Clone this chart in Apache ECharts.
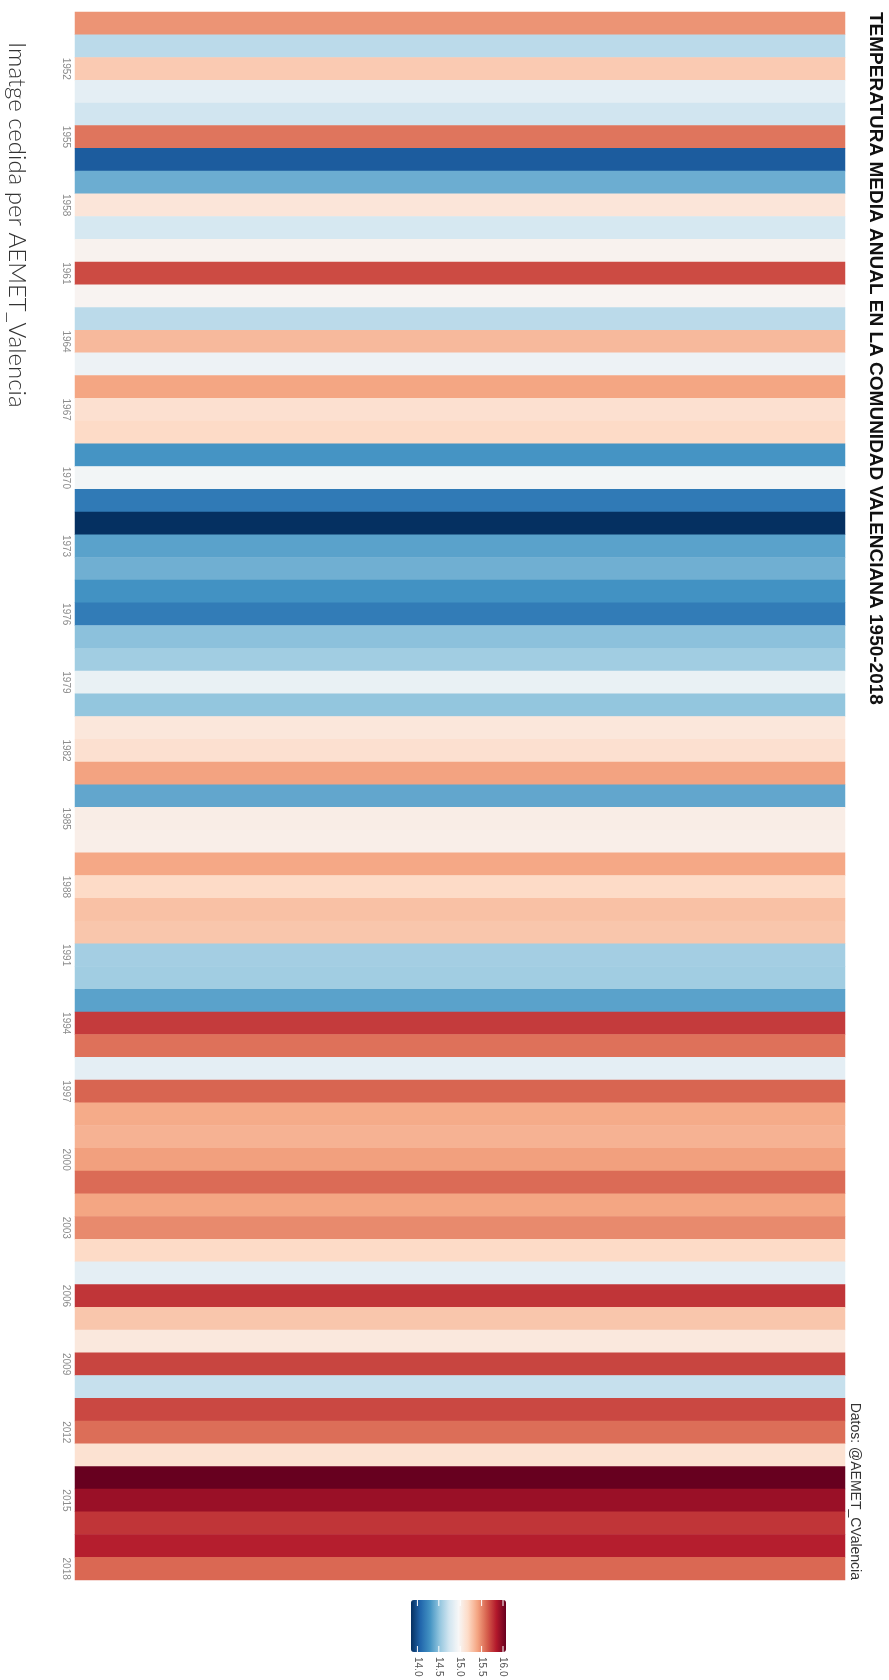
<!DOCTYPE html>
<html>
<head>
<meta charset="utf-8">
<script src="https://cdn.jsdelivr.net/npm/echarts@6/dist/echarts.min.js"></script>
<style>
html,body{margin:0;padding:0;background:#fff;}
#c{width:889px;height:1680px;}
</style>
</head>
<body>
<div id="c"></div>
<script>
const years = [1950,1951,1952,1953,1954,1955,1956,1957,1958,1959,
  1960,1961,1962,1963,1964,1965,1966,1967,1968,1969,
  1970,1971,1972,1973,1974,1975,1976,1977,1978,1979,
  1980,1981,1982,1983,1984,1985,1986,1987,1988,1989,
  1990,1991,1992,1993,1994,1995,1996,1997,1998,1999,
  2000,2001,2002,2003,2004,2005,2006,2007,2008,2009,
  2010,2011,2012,2013,2014,2015,2016,2017,2018];
const temps = [15.46,14.66,15.25,14.85,14.74,15.56,14.03,14.41,15.10,14.77,
  15.00,15.69,14.99,14.66,15.32,14.90,15.40,15.14,15.18,14.30,
  14.93,14.17,13.85,14.36,14.42,14.29,14.18,14.50,14.57,14.88,
  14.52,15.09,15.14,15.41,14.38,15.04,15.03,15.39,15.18,15.29,
  15.27,14.58,14.57,14.36,15.74,15.57,14.85,15.61,15.38,15.35,
  15.42,15.59,15.40,15.49,15.18,14.85,15.76,15.27,15.08,15.71,
  14.70,15.70,15.58,15.13,16.07,15.92,15.76,15.83,15.60];
const yearTicks = [1952,1955,1958,1961,1964,1967,1970,1973,1976,1979,1982,1985,1988,1991,1994,1997,2000,2003,2006,2009,2012,2015,2018];
const legendTicks = [14.0,14.5,15.0,15.5,16.0];
const legendTickLabels = ['14.0','14.5','15.0','15.5','16.0'];
const palette = ['#053061','#2166ac','#4393c3','#92c5de','#d1e5f0','#f7f7f7','#fddbc7','#f4a582','#d6604d','#b2182b','#67001f'];
const titleText = 'TEMPERATURA MEDIA ANUAL EN LA COMUNIDAD VALENCIANA 1950-2018';
const sourceText = 'Datos: @AEMET_CValencia';
const creditText = 'Imatge cedida per AEMET_Valencia';

const vmin = Math.min.apply(null, temps);
const vmax = Math.max.apply(null, temps);

const chart = echarts.init(document.getElementById('c'), null, {renderer:'canvas'});

const gridLeft = 75, gridRight = 44, gridTop = 12, gridBottom = 100;
const W = 889, H = 1680;
const legLeft = 411, legTop = 1600, legLen = 95, legThick = 52;
const rot = -Math.PI/2;

const graphics = [];
graphics.push({type:'text', x: 875, y: gridTop, rotation: rot,
  style:{text:titleText, font:'bold 19px "Liberation Sans", Arial, sans-serif', fill:'#111', textAlign:'left', textVerticalAlign:'middle'}});
graphics.push({type:'text', x: 855, y: H - gridBottom, rotation: rot,
  style:{text:sourceText, font:'14px "Liberation Sans", Arial, sans-serif', fill:'#333', textAlign:'right', textVerticalAlign:'middle'}});
graphics.push({type:'text', x: 17, y: 42, rotation: rot,
  style:{text:creditText, font:'300 24px Lato, "Open Sans", sans-serif', fill:'#333', textAlign:'left', textVerticalAlign:'middle'}});

legendTicks.forEach(function(v, i){
  const px = legLeft + (v - vmin) / (vmax - vmin) * legLen;
  graphics.push({type:'text', x: px, y: legTop + legThick + 5, rotation: rot,
    style:{text:legendTickLabels[i], font:'10px "Liberation Sans", Arial, sans-serif', fill:'#555', textAlign:'left', textVerticalAlign:'middle'}});
  graphics.push({type:'line', shape:{x1:px, y1:legTop, x2:px, y2:legTop+6}, style:{stroke:'#fff', lineWidth:1}, z:100});
  graphics.push({type:'line', shape:{x1:px, y1:legTop+legThick-6, x2:px, y2:legTop+legThick}, style:{stroke:'#fff', lineWidth:1}, z:100});
});

const option = {
  animation: false,
  backgroundColor: '#fff',
  grid: {left: gridLeft, right: gridRight, top: gridTop, bottom: gridBottom},
  xAxis: {type:'category', data:[''], show:false},
  yAxis: {type:'category', data: years, inverse: true,
    axisLine:{show:false}, axisTick:{show:false}, splitLine:{show:false},
    axisLabel:{interval: function(idx, val){ return yearTicks.indexOf(+val) >= 0; },
      rotate: -90, color:'#8c8c8c', fontSize: 10, margin: 4,
      fontFamily:'"Liberation Sans", Arial, sans-serif'}},
  visualMap: {type:'continuous', min: vmin, max: vmax, orient:'horizontal',
    left: legLeft, top: legTop, itemWidth: legThick, itemHeight: legLen, padding: 0,
    calculable: false, text: null, showLabel: false, seriesIndex: 0, hoverLink: false,
    inRange:{color: palette}},
  series: [{type:'heatmap', data: temps.map(function(t, i){ return [0, i, t]; }),
    itemStyle:{borderWidth:0}, emphasis:{disabled:true}}],
  graphic: graphics
};
chart.setOption(option);
</script>
</body>
</html>
